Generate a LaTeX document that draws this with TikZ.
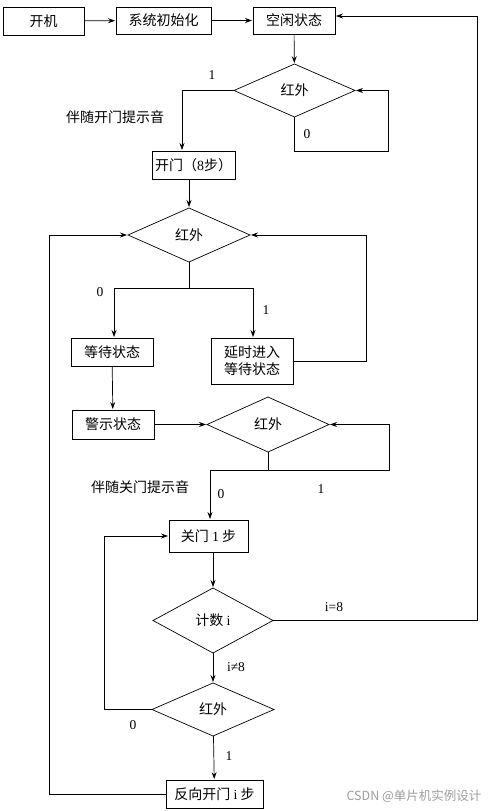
\documentclass[tikz,border=0pt]{standalone}
\usepackage{fontspec}
\newfontfamily\cjk{Noto Sans CJK SC}
\newfontfamily\lat{Liberation Serif}
\usetikzlibrary{shapes.geometric,arrows.meta}
\begin{document}
\begin{tikzpicture}[x=1pt,y=-1pt,
  every node/.style={inner sep=0pt,outer sep=0pt},
  box/.style={draw,line width=0.7pt,font=\cjk\fontsize{14}{17}\selectfont,align=center},
  dia/.style={draw,diamond,line width=0.7pt,font=\cjk\fontsize{14}{17}\selectfont},
  lbl/.style={font=\lat\fontsize{13.5}{15}\selectfont},
  note/.style={font=\cjk\fontsize{14}{17}\selectfont},
  ln/.style={line width=0.7pt},
  arr/.style={line width=0.7pt,-{Stealth[length=7pt,width=5pt,inset=2.5pt]},shorten >=1pt}]
\useasboundingbox (0,0) rectangle (493,811);
\fill[white] (0,0) rectangle (493,811);
% boxes
\node[box,minimum width=81pt,minimum height=28pt] (kj) at (43.5,21) {开机};
\node[box,minimum width=95pt,minimum height=27pt] (xt) at (163.5,20.5) {系统初始化};
\node[box,minimum width=82pt,minimum height=27pt] (kx) at (294,20.5) {空闲状态};
\node[dia,minimum width=121pt,minimum height=53pt] (d1) at (294.5,90.5) {红外};
\node[box,minimum width=83pt,minimum height=28pt] (km) at (193.5,165) {开门（{\lat 8}步）};
\node[dia,minimum width=122pt,minimum height=54pt] (d2) at (189,235) {红外};
\node[box,minimum width=82pt,minimum height=28pt] (dd) at (112,352) {等待状态};
\node[box,minimum width=82pt,minimum height=46pt] (ys) at (252,361) {延时进入\\等待状态};
\node[box,minimum width=82pt,minimum height=29pt] (js) at (113,424.5) {警示状态};
\node[dia,minimum width=122pt,minimum height=55pt] (d3) at (268,424.5) {红外};
\node[box,minimum width=79pt,minimum height=32pt] (gm) at (208.5,536) {关门 {\lat 1} 步};
\node[dia,minimum width=120pt,minimum height=65pt] (d4) at (213,620.5) {计数 {\lat i}};
\node[dia,minimum width=122pt,minimum height=53pt] (d5) at (213,709.5) {红外};
\node[box,minimum width=97pt,minimum height=28pt] (fx) at (214.5,794) {反向开门 {\lat i} 步};
% helper coordinates
\coordinate (l1) at (388,151);
\coordinate (kmin) at (182,151);
\coordinate (s2) at (189,288);
\coordinate (r2) at (366,361);
\coordinate (s3) at (268,470);
\coordinate (r3) at (389,470);
\coordinate (r4) at (477,620.5);
\coordinate (l5) at (104,709.5);
\coordinate (l6) at (49,794);
% connectors
\draw[arr] (kj) -- (xt);
\draw[arr] (xt) -- (kx);
\draw[arr] (kx) -- (d1);
\draw[arr] (d1.west) -| (kmin);
\draw[arr] (d1.south) |- (l1) |- (d1.east);
\draw[arr] (d2.north |- km.south) -- (d2.north);
\draw[ln] (d2.south) -- (s2);
\draw[arr] (s2) -| ([xshift=2pt]dd.north);
\draw[arr] (s2) -| ([xshift=1pt]ys.north);
\draw[arr] (ys.east) -- (r2) |- (d2.east);
\draw[arr] (dd) -- (js);
\draw[arr] (js) -- (d3);
\draw[arr] (d3.south) |- (r3) |- (d3.east);
\draw[arr] (s3) -| ([xshift=1.5pt]gm.north);
\draw[arr] (d4.north |- gm.south) -- (d4.north);
\draw[arr] (d4.east) -- (r4) |- ([yshift=4.5pt]kx.east);
\draw[arr] (d4) -- (d5);
\draw[arr] (d5.west) -- (l5) |- (gm.west);
\draw[arr] (d5) -- (fx);
\draw[arr] (fx.west) -- (l6) |- (d2.west);
% labels
\node[lbl] (t1) at (212,75) {1};
\node[note] (n1) at (115,117) {伴随开门提示音};
\node[lbl] (t2) at (307,134) {0};
\node[lbl] (t3) at (100,292) {0};
\node[lbl] (t4) at (266,310) {1};
\node[note] (n2) at (140,487) {伴随关门提示音};
\node[lbl] (t5) at (221,494) {0};
\node[lbl] (t6) at (321,489) {1};
\node[lbl] (t7) at (334,607) {i=8};
\node[lbl] (t8) at (236,667) {i≠8};
\node[lbl] (t9) at (133,725) {0};
\node[lbl] (t10) at (229,756) {1};
\node[font=\cjk\fontsize{12.5}{14}\selectfont,text=black!38] (wm) at (414,796) {CSDN @单片机实例设计};
\end{tikzpicture}
\end{document}
